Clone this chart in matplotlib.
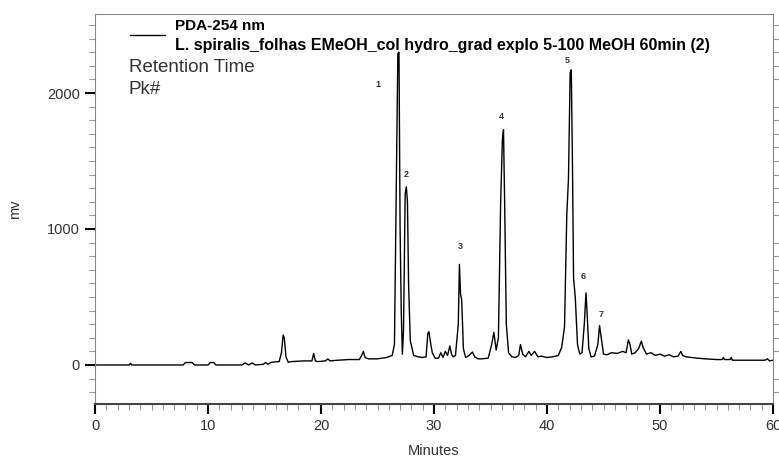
# PDA-254 nm chromatogram, L. spiralis leaf extract

import matplotlib.pyplot as plt
from matplotlib.ticker import MultipleLocator

# Retention time (min) and detector signal (mV)
minutes = [0, 3.0, 3.15, 3.25, 3.4, 7.8, 8.0, 8.6, 8.8, 10.0, 10.2, 10.5, 10.7,
           13.0, 13.3, 13.6, 13.9, 14.2, 14.9, 15.1, 15.3, 15.6, 16.3, 16.5,
           16.65, 16.75, 16.9, 17.1, 17.4, 18.5, 19.2, 19.35, 19.5, 19.7, 20.4,
           20.6, 20.8, 21.5, 22.5, 23.4, 23.6, 23.75, 23.9, 24.2, 25.0, 25.8,
           26.3, 26.5, 26.65, 26.8, 26.9, 27.0, 27.1, 27.2, 27.3, 27.45, 27.55,
           27.65, 27.75, 27.9, 28.2, 28.6, 29.0, 29.3, 29.45, 29.55, 29.7, 29.85,
           30.1, 30.4, 30.6, 30.8, 31.0, 31.2, 31.4, 31.55, 31.7, 31.9, 32.15,
           32.25, 32.35, 32.45, 32.6, 32.8, 33.1, 33.4, 33.6, 33.9, 34.2, 34.8,
           35.1, 35.3, 35.5, 35.7, 35.9, 36.05, 36.15, 36.25, 36.4, 36.6, 36.9,
           37.2, 37.5, 37.65, 37.85, 38.1, 38.4, 38.6, 38.9, 39.2, 39.5, 40.0,
           40.5, 41.0, 41.3, 41.55, 41.75, 41.9, 42.05, 42.15, 42.25, 42.35,
           42.5, 42.7, 42.9, 43.1, 43.3, 43.45, 43.55, 43.7, 43.9, 44.2, 44.5,
           44.65, 44.8, 45.0, 45.3, 45.7, 46.2, 46.7, 47.0, 47.2, 47.35, 47.5,
           47.8, 48.1, 48.35, 48.5, 48.8, 49.2, 49.6, 50.0, 50.4, 50.8, 51.2,
           51.6, 51.85, 52.0, 52.3, 52.8, 53.3, 54.0, 55.0, 55.5, 55.6, 55.7,
           56.2, 56.3, 56.4, 57.5, 59.3, 59.5, 59.7, 60.0]
signal = [0, 0, 12, 0, 0, 0, 18, 18, 0, 0, 18, 18, 0,
          0, 15, 0, 15, 0, 5, 18, 5, 20, 25, 90,
          220, 200, 60, 20, 25, 30, 30, 85, 30, 25, 30,
          45, 30, 35, 40, 40, 70, 100, 55, 45, 45, 55,
          70, 150, 1200, 2290, 2300, 1000, 400, 80, 250, 1260, 1310,
          1200, 600, 180, 70, 60, 55, 60, 230, 245, 160, 90,
          50, 50, 90, 55, 100, 70, 140, 80, 60, 70, 300,
          740, 520, 480, 120, 55, 70, 95, 60, 45, 45, 50,
          150, 240, 110, 200, 1200, 1650, 1730, 1200, 300, 90, 60,
          55, 70, 150, 80, 60, 100, 70, 100, 60, 65, 55,
          60, 70, 130, 280, 1100, 1370, 2150, 2170, 1500, 640,
          500, 150, 80, 90, 300, 530, 380, 120, 60, 65, 150,
          290, 200, 80, 75, 90, 85, 100, 90, 185, 150, 80,
          90, 120, 175, 130, 80, 90, 70, 80, 65, 75, 60,
          65, 100, 70, 60, 55, 50, 45, 40, 40, 55, 40,
          40, 55, 35, 35, 35, 45, 30, 35]

# Peak numbers and where their labels sit (time, mV)
peak_ids = ["1", "2", "3", "4", "5", "6", "7"]
peak_times = [25.0, 27.5, 32.3, 36.0, 41.8, 43.2, 44.8]
peak_label_mv = [2060, 1400, 870, 1830, 2240, 650, 370]

plt.rcParams["font.family"] = ["Liberation Sans", "DejaVu Sans"]

fig = plt.figure(figsize=(7.79, 4.59), dpi=100)
ax = fig.add_axes([95 / 779, 55 / 459, 678 / 779, 390 / 459])

ax.plot(minutes, signal, color="black", linewidth=1.0)

for pid, pt, pmv in zip(peak_ids, peak_times, peak_label_mv):
    ax.text(pt, pmv, pid, fontsize=6.5, fontweight="bold", color="#333333",
            ha="center", va="center")

# Legend block
ax.plot([3.1, 6.2], [2430, 2430], color="black", linewidth=1.0)
ax.text(7.1, 2495, "PDA-254 nm", fontsize=11, fontweight="bold",
        va="center", color="black")
ax.text(7.1, 2350, "L. spiralis_folhas EMeOH_col hydro_grad explo 5-100 MeOH 60min (2)",
        fontsize=11.5, fontweight="bold", va="center", color="black")
ax.text(3.0, 2185, "Retention Time", fontsize=13.5, va="center",
        color="#333333")
ax.text(3.0, 2025, "Pk#", fontsize=13.5, va="center", color="#333333")

ax.set_xlim(0, 60)
ax.set_ylim(-287, 2581)
ax.xaxis.set_major_locator(MultipleLocator(10))
ax.xaxis.set_minor_locator(MultipleLocator(1))
ax.yaxis.set_major_locator(MultipleLocator(1000))
ax.yaxis.set_minor_locator(MultipleLocator(100))

ax.tick_params(axis="both", which="major", direction="out", length=7,
               width=1.5, color="black", labelsize=10.5, labelcolor="#333333",
               pad=4)
ax.tick_params(axis="both", which="minor", direction="out", length=4,
               width=0.8, color="#999999")
ax.tick_params(axis="y", which="minor", right=True)

for side in ["top", "right", "left"]:
    ax.spines[side].set_color("#888888")
ax.spines["bottom"].set_color("#444444")
ax.spines["bottom"].set_linewidth(1.5)

ax.set_xlabel("Minutes", fontsize=10.5, color="#333333", labelpad=8)
ax.set_ylabel("mv", fontsize=10.5, color="#333333", labelpad=18)

fig.savefig("out.png", dpi=100)
